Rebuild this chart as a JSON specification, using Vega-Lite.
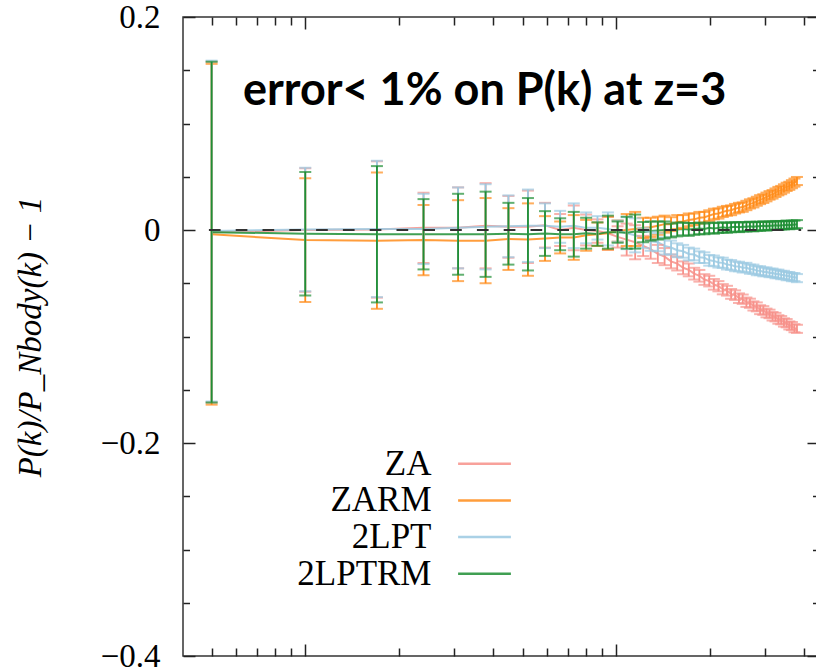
{
 "$schema": "https://vega.github.io/schema/vega-lite/v6.json",
 "width": 636,
 "height": 639,
 "autosize": {"type": "none"},
 "padding": {"left": 183, "top": 17, "right": 0, "bottom": 14},
 "background": "white",
 "title": {"text": "error< 1% on P(k) at z=3", "anchor": "start", "frame": "group", "orient": "top", "offset": 0, "dx": 60, "dy": 149, "baseline": "alphabetic", "font": "Lato", "fontWeight": "bold", "fontSize": 45, "color": "#000"},
 "config": {
  "view": {"stroke": "#333", "strokeWidth": 1.5},
  "axis": {"grid": false, "domain": false, "labels": false, "tickColor": "#222", "tickWidth": 1.5}
 },
 "datasets": {
  "zero": [{"k0": 0.0049, "k1": 0.393, "v": 0}],
  "pk": [
   {"k":0.005,"e":0.16,"ZA":-0.002,"ZARM":-0.004,"2LPT":-0.001,"2LPTRM":-0.002},
   {"k":0.010,"e":0.058,"ZA":0.0,"ZARM":-0.0095,"2LPT":0.0005,"2LPTRM":-0.0035},
   {"k":0.017,"e":0.064,"ZA":0.0005,"ZARM":-0.010,"2LPT":0.001,"2LPTRM":-0.004},
   {"k":0.024,"e":0.033,"ZA":0.002,"ZARM":-0.0095,"2LPT":0.001,"2LPTRM":-0.004},
   {"k":0.031,"e":0.038,"ZA":0.002,"ZARM":-0.010,"2LPT":0.002,"2LPTRM":-0.004},
   {"k":0.038,"e":0.040,"ZA":0.004,"ZARM":-0.010,"2LPT":0.003,"2LPTRM":-0.004},
   {"k":0.045,"e":0.029,"ZA":0.003,"ZARM":-0.0085,"2LPT":0.0035,"2LPTRM":-0.0035},
   {"k":0.052,"e":0.034,"ZA":0.003,"ZARM":-0.009,"2LPT":0.004,"2LPTRM":-0.004},
   {"k":0.059,"e":0.021,"ZA":0.0045,"ZARM":-0.008,"2LPT":0.004,"2LPTRM":-0.0033},
   {"k":0.066,"e":0.015,"ZA":0.0,"ZARM":-0.007,"2LPT":0.003,"2LPTRM":-0.004},
   {"k":0.073,"e":0.021,"ZA":0.002,"ZARM":-0.007,"2LPT":0.004,"2LPTRM":-0.004},
   {"k":0.080,"e":0.0145,"ZA":0.0,"ZARM":-0.005,"2LPT":0.002,"2LPTRM":-0.003},
   {"k":0.087,"e":0.011,"ZA":-0.001,"ZARM":-0.004,"2LPT":0.002,"2LPTRM":-0.0038},
   {"k":0.094,"e":0.0155,"ZA":-0.003,"ZARM":-0.003,"2LPT":0.001,"2LPTRM":-0.002},
   {"k":0.101,"e":0.010,"ZA":-0.0065,"ZARM":-0.001,"2LPT":-0.001,"2LPTRM":-0.002},
   {"k":0.108,"e":0.015,"ZA":-0.009,"ZARM":0.0,"2LPT":-0.003,"2LPTRM":-0.0025},
   {"k":0.115,"e":0.016,"ZA":-0.0115,"ZARM":0.001,"2LPT":-0.005,"2LPTRM":-0.0015},
   {"k":0.122,"e":0.0095,"ZA":-0.015,"ZARM":0.002,"2LPT":-0.0075,"2LPTRM":-0.002},
   {"k":0.129,"e":0.009,"ZA":-0.018,"ZARM":0.0025,"2LPT":-0.0105,"2LPTRM":-0.001},
   {"k":0.136,"e":0.0085,"ZA":-0.0225,"ZARM":0.004,"2LPT":-0.0115,"2LPTRM":-0.0005},
   {"k":0.143,"e":0.008,"ZA":-0.025,"ZARM":0.0055,"2LPT":-0.015,"2LPTRM":0.0},
   {"k":0.150,"e":0.0065,"ZA":-0.0295,"ZARM":0.0055,"2LPT":-0.0165,"2LPTRM":-0.0005},
   {"k":0.157,"e":0.0065,"ZA":-0.0315,"ZARM":0.0075,"2LPT":-0.019,"2LPTRM":0.0005},
   {"k":0.164,"e":0.006,"ZA":-0.0355,"ZARM":0.008,"2LPT":-0.020,"2LPTRM":0.001},
   {"k":0.171,"e":0.006,"ZA":-0.0375,"ZARM":0.0095,"2LPT":-0.0225,"2LPTRM":0.0005},
   {"k":0.178,"e":0.0055,"ZA":-0.041,"ZARM":0.010,"2LPT":-0.023,"2LPTRM":0.001},
   {"k":0.185,"e":0.0055,"ZA":-0.043,"ZARM":0.0115,"2LPT":-0.0255,"2LPTRM":0.0015},
   {"k":0.192,"e":0.005,"ZA":-0.0465,"ZARM":0.012,"2LPT":-0.026,"2LPTRM":0.001},
   {"k":0.199,"e":0.005,"ZA":-0.048,"ZARM":0.0135,"2LPT":-0.0285,"2LPTRM":0.002},
   {"k":0.206,"e":0.005,"ZA":-0.051,"ZARM":0.015,"2LPT":-0.029,"2LPTRM":0.0015},
   {"k":0.213,"e":0.0048,"ZA":-0.0528,"ZARM":0.0155,"2LPT":-0.0305,"2LPTRM":0.002},
   {"k":0.220,"e":0.0048,"ZA":-0.0556,"ZARM":0.017,"2LPT":-0.0308,"2LPTRM":0.0025},
   {"k":0.227,"e":0.0046,"ZA":-0.057,"ZARM":0.018,"2LPT":-0.0325,"2LPTRM":0.002},
   {"k":0.234,"e":0.0046,"ZA":-0.060,"ZARM":0.0185,"2LPT":-0.0328,"2LPTRM":0.0025},
   {"k":0.241,"e":0.0045,"ZA":-0.0612,"ZARM":0.020,"2LPT":-0.0342,"2LPTRM":0.003},
   {"k":0.248,"e":0.0045,"ZA":-0.064,"ZARM":0.021,"2LPT":-0.0343,"2LPTRM":0.0025},
   {"k":0.255,"e":0.0044,"ZA":-0.065,"ZARM":0.0215,"2LPT":-0.0355,"2LPTRM":0.003},
   {"k":0.262,"e":0.0044,"ZA":-0.0678,"ZARM":0.023,"2LPT":-0.0352,"2LPTRM":0.003},
   {"k":0.269,"e":0.0043,"ZA":-0.0688,"ZARM":0.0245,"2LPT":-0.0368,"2LPTRM":0.0035},
   {"k":0.276,"e":0.0043,"ZA":-0.0713,"ZARM":0.0255,"2LPT":-0.0368,"2LPTRM":0.003},
   {"k":0.283,"e":0.0042,"ZA":-0.0722,"ZARM":0.027,"2LPT":-0.0383,"2LPTRM":0.0035},
   {"k":0.290,"e":0.0042,"ZA":-0.0748,"ZARM":0.0285,"2LPT":-0.0382,"2LPTRM":0.0035},
   {"k":0.297,"e":0.0041,"ZA":-0.0756,"ZARM":0.0295,"2LPT":-0.0394,"2LPTRM":0.004},
   {"k":0.304,"e":0.0041,"ZA":-0.0779,"ZARM":0.031,"2LPT":-0.0392,"2LPTRM":0.0035},
   {"k":0.311,"e":0.004,"ZA":-0.0788,"ZARM":0.0325,"2LPT":-0.0403,"2LPTRM":0.004},
   {"k":0.318,"e":0.004,"ZA":-0.081,"ZARM":0.0335,"2LPT":-0.0402,"2LPTRM":0.004},
   {"k":0.325,"e":0.004,"ZA":-0.0818,"ZARM":0.035,"2LPT":-0.0413,"2LPTRM":0.0045},
   {"k":0.332,"e":0.004,"ZA":-0.084,"ZARM":0.0365,"2LPT":-0.0412,"2LPTRM":0.004},
   {"k":0.339,"e":0.0039,"ZA":-0.0847,"ZARM":0.0375,"2LPT":-0.0423,"2LPTRM":0.0045},
   {"k":0.346,"e":0.0039,"ZA":-0.0868,"ZARM":0.039,"2LPT":-0.0422,"2LPTRM":0.0045},
   {"k":0.353,"e":0.0039,"ZA":-0.0875,"ZARM":0.0405,"2LPT":-0.0433,"2LPTRM":0.005},
   {"k":0.360,"e":0.0038,"ZA":-0.0896,"ZARM":0.0415,"2LPT":-0.0432,"2LPTRM":0.0045},
   {"k":0.367,"e":0.0038,"ZA":-0.0902,"ZARM":0.043,"2LPT":-0.0443,"2LPTRM":0.005},
   {"k":0.374,"e":0.0038,"ZA":-0.0922,"ZARM":0.0445,"2LPT":-0.0442,"2LPTRM":0.005},
   {"k":0.381,"e":0.0038,"ZA":-0.0928,"ZARM":0.046,"2LPT":-0.0452,"2LPTRM":0.0055}
  ]
 },
 "layer": [
  {
   "data": {"name": "pk"},
   "transform": [{"fold": ["ZA", "ZARM", "2LPT", "2LPTRM"], "as": ["m", "v"]}],
   "mark": {"type": "line", "strokeWidth": 2, "opacity": 0.85},
   "encoding": {
    "x": {"field": "k", "type": "quantitative", "scale": {"type": "log", "domain": [0.004045, 0.4485], "nice": false},
          "axis": {"orient": "bottom", "values": [0.005,0.006,0.007,0.008,0.009,0.02,0.03,0.04,0.05,0.06,0.07,0.08,0.09,0.2,0.3,0.4], "tickSize": -8, "title": null}},
    "y": {"field": "v", "type": "quantitative", "scale": {"domain": [-0.4, 0.2], "nice": false, "zero": false},
          "axis": {"orient": "left", "values": [-0.4, -0.2, 0, 0.2], "tickSize": -12, "title": null}},
    "color": {"field": "m", "type": "nominal",
              "scale": {"domain": ["ZA", "ZARM", "2LPT", "2LPTRM"], "range": ["#f7918a", "#ff8c1a", "#9ccae2", "#1f8f35"]},
              "legend": {"orient": "none", "legendX": 284, "legendY": 429.2, "title": null, "symbolType": "M-4.4,0H4.4", "symbolSize": 144, "symbolStrokeWidth": 2.5, "symbolFillColor": "transparent", "labelFont": "Liberation Serif", "labelFontSize": 35, "labelColor": "#000", "labelAlign": "right", "labelOffset": -70.5, "rowPadding": 0.7, "padding": 0, "labelLimit": 0}}
   }
  },
  {
   "data": {"name": "pk"},
   "transform": [{"fold": ["ZA", "ZARM", "2LPT", "2LPTRM"], "as": ["m", "v"]}],
   "encoding": {
    "x": {"field": "k", "type": "quantitative", "scale": {"type": "log", "domain": [0.004045, 0.4485], "nice": false}, "axis": null},
    "y": {"field": "v", "type": "quantitative", "scale": {"domain": [-0.4, 0.2], "nice": false, "zero": false}, "axis": null},
    "yError": {"field": "e"},
    "color": {"field": "m", "type": "nominal", "scale": {"domain": ["ZA", "ZARM", "2LPT", "2LPTRM"], "range": ["#f7918a", "#ff8c1a", "#9ccae2", "#1f8f35"]}, "legend": null}
   },
   "layer": [
    {"transform": [{"filter": {"field": "m", "equal": "ZA"}}], "mark": {"type": "errorbar", "ticks": {"size": 12, "thickness": 2}, "rule": {"strokeWidth": 1.8}}},
    {"transform": [{"filter": {"field": "m", "equal": "ZARM"}}], "mark": {"type": "errorbar", "ticks": {"size": 12, "thickness": 2}, "rule": {"strokeWidth": 1.8}}},
    {"transform": [{"filter": {"field": "m", "equal": "2LPT"}}], "mark": {"type": "errorbar", "ticks": {"size": 12, "thickness": 2}, "rule": {"strokeWidth": 1.8}}},
    {"transform": [{"filter": {"field": "m", "equal": "2LPTRM"}}], "mark": {"type": "errorbar", "ticks": {"size": 12, "thickness": 2}, "rule": {"strokeWidth": 1.8}}}
   ]
  },
  {
   "data": {"name": "zero"},
   "mark": {"type": "point", "opacity": 0},
   "encoding": {
    "x": {"field": "k0", "type": "quantitative", "scale": {"type": "log", "domain": [0.004045, 0.4485], "nice": false},
          "axis": {"orient": "top", "values": [0.01, 0.1], "tickSize": -12, "title": null}},
    "y": {"field": "v", "type": "quantitative", "scale": {"domain": [-0.4, 0.2], "nice": false, "zero": false},
          "axis": {"orient": "left", "values": [-0.35,-0.3,-0.25,-0.15,-0.1,-0.05,0.05,0.1,0.15], "tickSize": -6.5, "title": null}}
   }
  },
  {
   "data": {"name": "zero"},
   "mark": {"type": "point", "opacity": 0},
   "encoding": {
    "x": {"field": "k0", "type": "quantitative", "scale": {"type": "log", "domain": [0.004045, 0.4485], "nice": false},
          "axis": {"orient": "top", "values": [0.005,0.006,0.007,0.008,0.009,0.02,0.03,0.04,0.05,0.06,0.07,0.08,0.09,0.2,0.3,0.4], "tickSize": -8, "title": null}},
    "y": {"field": "v", "type": "quantitative", "scale": {"domain": [-0.4, 0.2], "nice": false, "zero": false},
          "axis": {"orient": "right", "values": [-0.4, -0.2, 0, 0.2], "tickSize": -12, "title": null}}
   }
  },
  {
   "data": {"name": "zero"},
   "mark": {"type": "point", "opacity": 0},
   "encoding": {
    "x": {"field": "k0", "type": "quantitative", "scale": {"type": "log", "domain": [0.004045, 0.4485], "nice": false}, "axis": null},
    "y": {"field": "v", "type": "quantitative", "scale": {"domain": [-0.4, 0.2], "nice": false, "zero": false},
          "axis": {"orient": "right", "values": [-0.35,-0.3,-0.25,-0.15,-0.1,-0.05,0.05,0.1,0.15], "tickSize": -6.5, "title": null}}
   }
  },
  {
   "data": {"name": "zero"},
   "mark": {"type": "rule", "strokeDash": [11.7, 15.1], "strokeWidth": 2, "color": "#333"},
   "encoding": {
    "x": {"field": "k0", "type": "quantitative", "scale": {"type": "log", "domain": [0.004045, 0.4485], "nice": false},
          "axis": {"orient": "bottom", "values": [0.01, 0.1], "tickSize": -12, "title": null}},
    "x2": {"field": "k1"},
    "y": {"field": "v", "type": "quantitative", "scale": {"domain": [-0.4, 0.2], "nice": false, "zero": false},
          "axis": {"orient": "left", "values": [-0.4, -0.2, 0, 0.2], "ticks": false, "labels": true, "labelPadding": 23, "labelFlush": false, "format": ".1~f",
                   "labelFont": "Liberation Serif", "labelFontSize": 33, "labelColor": "#000", "labelBaseline": "middle",
                   "title": "P(k)/P_Nbody(k) − 1", "titleFont": "Liberation Serif", "titleFontStyle": "italic", "titleFontWeight": "normal", "titleFontSize": 33, "titleColor": "#000",
                   "titleX": -143, "titleY": 319.5, "titleAngle": -90, "titleAlign": "center", "titleBaseline": "alphabetic"}}
   }
  }
 ],
 "resolve": {"axis": {"x": "independent", "y": "independent"}}
}
